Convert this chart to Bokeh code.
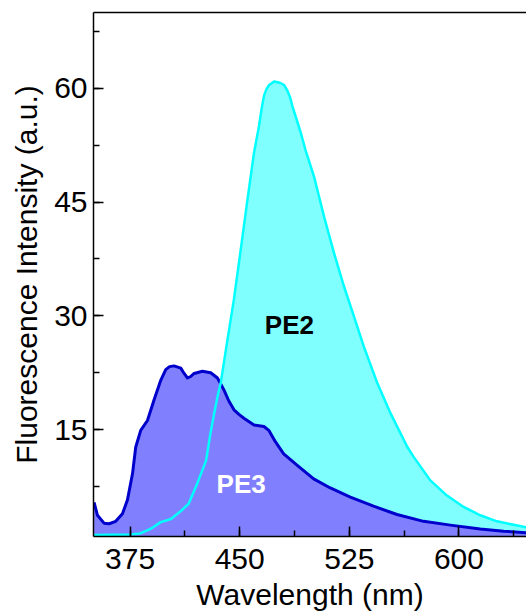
from bokeh.plotting import figure
from bokeh.models import LinearAxis, SingleIntervalTicker, FixedTicker, Range1d
from bokeh.core.properties import value
from bokeh.embed import file_html
from bokeh.resources import INLINE

# PE3 emission (blue)
pe3_wl = [350.4, 352.7, 357.2, 360.7, 365.2, 369.8, 373.2, 376.7, 378.9, 382.3,
          386.9, 391.4, 396.0, 399.4, 402.0, 405.1, 409.7, 412.0, 414.3, 416.5,
          418.8, 424.5, 430.2, 434.8, 439.3, 442.5, 446.1, 449.5, 452.9, 459.8,
          466.6, 469.9, 474.4, 480.1, 489.2, 500.6, 512.0, 525.7, 541.6, 557.6,
          575.8, 594.1, 614.6, 630.5, 646.2]
pe3_int = [5.4, 3.7, 2.66, 2.58, 2.9, 3.9, 5.7, 9.2, 12.7, 14.9,
           16.2, 18.9, 21.5, 22.9, 23.3, 23.4, 23.1, 22.4, 21.8, 22.0,
           22.4, 22.7, 22.5, 21.8, 20.2, 18.8, 17.6, 17.0, 16.5, 15.6,
           15.4, 14.9, 13.4, 11.8, 10.3, 8.5, 7.3, 6.1, 4.9, 3.8,
           2.9, 2.4, 1.9, 1.6, 1.4]

# PE2 emission (cyan)
pe2_wl = [350.0, 375.0, 382.0, 389.0, 396.0, 403.0, 410.0, 415.0, 421.0, 427.0,
          430.0, 432.5, 435.0, 437.0, 441.6, 446.0, 450.7, 455.3, 459.8, 463.2,
          465.0, 466.6, 468.3, 470.0, 473.5, 476.0, 478.0, 480.5, 482.6, 484.5,
          486.0, 491.7, 495.0, 500.8, 507.7, 514.5, 521.3, 528.2, 535.0, 544.2,
          553.3, 564.7, 569.0, 580.4, 591.8, 603.2, 614.6, 626.0, 646.2]
pe2_int = [1.1, 1.15, 1.3, 1.9, 2.8, 3.2, 4.3, 5.2, 7.9, 10.9,
           14.5, 17.1, 19.5, 21.1, 26.8, 32.1, 38.7, 45.3, 51.5, 55.0,
           57.3, 59.0, 59.9, 60.4, 60.9, 60.8, 60.7, 60.4, 59.7, 58.8,
           57.7, 54.2, 51.9, 48.4, 43.1, 38.3, 33.9, 29.9, 25.9, 21.1,
           17.1, 12.7, 11.4, 8.3, 6.3, 4.8, 3.7, 2.9, 2.1]

label_names = ["PE2", "PE3"]
label_x = [484.0, 451.0]
label_y = [28.8, 7.8]
label_colors = ["black", "white"]

FONT = "Liberation Sans"

p = figure(width=526, height=613, output_backend="svg", toolbar_location=None,
           x_range=Range1d(350, 646.2), y_range=Range1d(0.9, 70),
           min_border_left=93, min_border_right=0, min_border_top=12,
           min_border_bottom=77, background_fill_color="white",
           border_fill_color="white", outline_line_color=None)
p.grid.visible = False

# fills
p.varea(x=pe2_wl, y1=[0] * len(pe2_wl), y2=pe2_int, fill_color="#80ffff", fill_alpha=1.0)
p.varea(x=pe3_wl, y1=[0] * len(pe3_wl), y2=pe3_int, fill_color="#8080ff", fill_alpha=1.0)
# lines
p.line(pe3_wl, pe3_int, line_color="#0000cc", line_width=3, line_join="round")
p.line(pe2_wl, pe2_int, line_color="#00ffff", line_width=2.5, line_join="round")

p.text(x=label_x, y=label_y, text=label_names, text_color=label_colors,
       text_font=value(FONT), text_font_style="bold", text_font_size="26px",
       text_align="center", text_baseline="middle")

# axes styling
p.xaxis.ticker = SingleIntervalTicker(interval=75, num_minor_ticks=2)
p.yaxis.ticker = SingleIntervalTicker(interval=15, num_minor_ticks=2)
p.xaxis.axis_label = "Wavelength (nm)"
p.yaxis.axis_label = "Fluorescence Intensity (a.u.)"
for ax in (p.xaxis[0], p.yaxis[0]):
    ax.axis_line_color = "black"
    ax.axis_line_width = 1.5
    ax.major_tick_in = 10
    ax.major_tick_out = 0
    ax.minor_tick_in = 6
    ax.minor_tick_out = 0
    ax.major_tick_line_color = "black"
    ax.minor_tick_line_color = "black"
    ax.major_tick_line_width = 1.5
    ax.minor_tick_line_width = 1.5
    ax.major_label_text_font = FONT
    ax.major_label_text_font_size = "30px"
    ax.major_label_text_color = "black"
    ax.axis_label_text_font = FONT
    ax.axis_label_text_font_size = "30px"
    ax.axis_label_text_font_style = "normal"
    ax.axis_label_text_color = "black"
p.yaxis.major_label_standoff = 6
p.yaxis.axis_label_standoff = 8
p.xaxis.major_label_standoff = 12
p.xaxis.axis_label_standoff = 6

top = LinearAxis(ticker=FixedTicker(ticks=[]), axis_line_color="black",
                 axis_line_width=1.5, major_tick_line_color=None,
                 minor_tick_line_color=None, major_label_text_font_size="0px")
p.add_layout(top, "above")

open("out.html", "w").write(file_html(p, INLINE))
